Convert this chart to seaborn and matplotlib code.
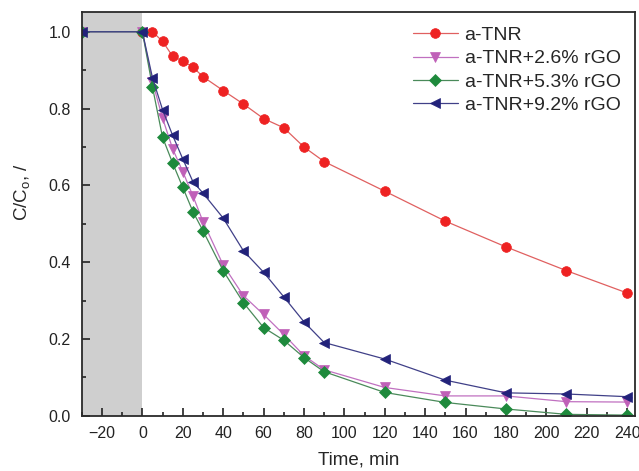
import matplotlib
matplotlib.use('agg')
import matplotlib.pyplot as plt
from matplotlib.ticker import MultipleLocator, FormatStrFormatter
import seaborn as sns

# data
t_red = [0, 5, 10, 15, 20, 25, 30, 40, 50, 60, 70, 80, 90, 120, 150, 180, 210, 240]
c_red = [1.0, 1.0, 0.975, 0.936, 0.924, 0.908, 0.883, 0.847, 0.812, 0.774, 0.75, 0.70, 0.662,
         0.585, 0.507, 0.440, 0.378, 0.32]

t_rgo = [-30, 0, 5, 10, 15, 20, 25, 30, 40, 50, 60, 70, 80, 90, 120, 150, 180, 210, 240]
c_26 = [1.0, 1.0, 0.87, 0.775, 0.695, 0.636, 0.573, 0.506, 0.393, 0.313, 0.264, 0.212, 0.157,
        0.12, 0.074, 0.052, 0.052, 0.037, 0.036]
c_53 = [1.0, 1.0, 0.856, 0.725, 0.658, 0.595, 0.532, 0.482, 0.378, 0.295, 0.23, 0.197, 0.152,
        0.115, 0.061, 0.035, 0.018, 0.004, 0.002]
c_92 = [1.0, 1.0, 0.88, 0.797, 0.73, 0.669, 0.61, 0.58, 0.515, 0.43, 0.374, 0.31, 0.245,
        0.191, 0.148, 0.093, 0.06, 0.057, 0.05]

labels = ['a-TNR', 'a-TNR+2.6% rGO', 'a-TNR+5.3% rGO', 'a-TNR+9.2% rGO']

sns.set_style('ticks')
plt.rcParams['font.family'] = ['Liberation Sans', 'DejaVu Sans']
plt.rcParams['mathtext.fontset'] = 'custom'
plt.rcParams['mathtext.rm'] = 'Liberation Sans'

fig, ax = plt.subplots(figsize=(6.39, 4.71), dpi=100)
fig.subplots_adjust(left=0.128, right=0.994, top=0.975, bottom=0.117)

# dark (adsorption) period
ax.axvspan(-30, 0, color='#cfcfcf', zorder=0, lw=0)

series = [
    (t_red, c_red, 'o', '#ee2222', '#e06060', 7),
    (t_rgo, c_26, 'v', '#c060b8', '#c070c0', 7.5),
    (t_rgo, c_53, 'D', '#1e8a3c', '#4a8a5a', 6),
    (t_rgo, c_92, '<', '#22227a', '#404088', 7.5),
]
for (x, y, mk, mc, lc, ms), lab in zip(series, labels):
    sns.lineplot(x=x, y=y, ax=ax, color=lc, linewidth=0.9, marker=mk, markersize=ms,
                 markerfacecolor=mc, markeredgecolor=mc, markeredgewidth=0.5, label=lab)

ax.set_xlim(-30, 244)
ax.set_ylim(0, 1.052)
ax.xaxis.set_major_locator(MultipleLocator(20))
ax.xaxis.set_minor_locator(MultipleLocator(10))
ax.yaxis.set_major_locator(MultipleLocator(0.2))
ax.yaxis.set_minor_locator(MultipleLocator(0.1))
ax.yaxis.set_major_formatter(FormatStrFormatter('%.1f'))
ax.tick_params(which='both', direction='in', labelsize=11.5, colors='#222222', width=1.2)
ax.tick_params(which='major', length=6)
ax.tick_params(axis='x', pad=7)
ax.tick_params(axis='y', pad=8)
ax.tick_params(which='minor', length=3)
for s in ax.spines.values():
    s.set_linewidth(1.3)
    s.set_color('#2a2a2a')

ax.set_xlabel('Time, min', fontsize=13.5, labelpad=8)
ax.set_ylabel(r'C/C$_\mathregular{o}$, /', fontsize=13.5)
ax.yaxis.set_label_coords(-0.088, 0.554)

ax.legend(loc='upper right', frameon=False, fontsize=14, handlelength=2.3,
          labelspacing=0.3, handletextpad=0.35, borderaxespad=0.35)

plt.savefig('out.png', dpi=100)
plt.close()
